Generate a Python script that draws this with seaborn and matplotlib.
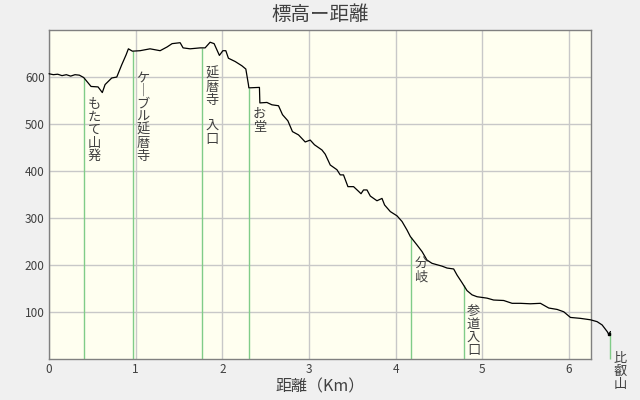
import numpy as np
import pandas as pd
import seaborn as sns
import matplotlib
matplotlib.use("Agg")
import matplotlib.pyplot as plt

# elevation profile, distance in km / elevation in m
dist = [0.00, 0.05, 0.10, 0.15, 0.20, 0.25, 0.30, 0.35, 0.40, 0.485, 0.566, 0.615,
        0.647, 0.724, 0.782, 0.839, 0.889, 0.916, 0.962, 1.051, 1.166, 1.282,
        1.363, 1.420, 1.513, 1.547, 1.628, 1.744, 1.801, 1.859, 1.905, 1.966,
        2.006, 2.040, 2.070, 2.148, 2.225, 2.271, 2.301, 2.306, 2.428, 2.433,
        2.514, 2.572, 2.648, 2.694, 2.756, 2.809, 2.879, 2.956, 3.014, 3.063,
        3.149, 3.187, 3.245, 3.322, 3.360, 3.398, 3.449, 3.514, 3.572, 3.600,
        3.629, 3.669, 3.707, 3.784, 3.842, 3.872, 3.938, 4.015, 4.073, 4.130,
        4.169, 4.246, 4.304, 4.361, 4.419, 4.535, 4.592, 4.669, 4.708, 4.765,
        4.823, 4.881, 4.939, 5.054, 5.130, 5.246, 5.343, 5.439, 5.554, 5.670,
        5.766, 5.863, 5.939, 6.016, 6.132, 6.247, 6.324, 6.382, 6.440, 6.459,
        6.478]
elev = [607, 605, 606, 603, 605, 602, 605, 604, 599, 580, 579, 567,
        584, 598, 600, 626, 647, 660, 655, 656, 660, 656,
        664, 671, 673, 662, 660, 662, 662, 674, 671, 646,
        656, 656, 640, 633, 624, 617, 584, 577, 578, 545,
        546, 541, 539, 520, 507, 484, 477, 462, 466, 456,
        445, 436, 413, 403, 392, 392, 367, 367, 357, 352,
        360, 360, 347, 337, 342, 328, 314, 305, 293, 275,
        261, 243, 229, 211, 204, 198, 194, 192, 179, 163,
        146, 137, 133, 130, 126, 125, 119, 119, 118, 119,
        109, 106, 101, 89, 87, 84, 80, 73, 59, 53,
        59]

# waypoints
point_km = [0.404, 0.970, 1.763, 2.313, 4.176, 4.784, 6.478]
point_names = ["もたて山発", "ケーブル延暦寺", "延暦寺 入口", "お堂", "分岐", "参道入口", "比叡山"]

x_ticks = [0, 1, 2, 3, 4, 5, 6]
y_ticks = [100, 200, 300, 400, 500, 600]

sns.set_theme(style="whitegrid", rc={
    "figure.facecolor": "#f0f0f0",
    "axes.facecolor": "#fffff0",
    "axes.edgecolor": "#808080",
    "axes.linewidth": 1.0,
    "grid.color": "#c8c8c8",
    "grid.linewidth": 1.0,
    "text.color": "#404040",
    "xtick.color": "#404040",
    "ytick.color": "#404040",
})
plt.rcParams["font.family"] = ["Noto Sans CJK JP", "DejaVu Sans"]

fig = plt.figure(figsize=(6.4, 4), dpi=100)
ax = fig.add_axes([49 / 640, 40.7 / 400, 541.7 / 640, 329.3 / 400])

df = pd.DataFrame({"km": dist, "m": elev})
tops = np.interp(point_km, dist, elev)
ax.vlines(point_km, 0, tops, colors="#80cc88", linewidth=1.0, clip_on=False, zorder=2)
sns.lineplot(data=df, x="km", y="m", ax=ax, color="black", linewidth=0.9,
             sort=False, clip_on=False, zorder=3)
# end point marker
ax.plot(dist[-2], elev[-2], marker="s", markersize=1.8, color="black", clip_on=False, zorder=4)

def vertical(s):
    return "\n".join("｜" if c == "ー" else c for c in s)

for km, top, name in zip(point_km, tops, point_names):
    ax.annotate(vertical(name), xy=(km, top), xytext=(10, -20),
                textcoords="offset pixels", ha="center", va="top",
                fontsize=9.5, linespacing=1.0, color="#404040",
                annotation_clip=False)

ax.set_xlim(0, 6.25)
ax.set_ylim(0, 700)
ax.set_xticks(x_ticks)
ax.set_yticks(y_ticks)
ax.tick_params(length=0, pad=3, labelsize=8.5)
ax.set_xlabel("")
ax.set_ylabel("")
fig.text(0.5, 1 - 387 / 400, "距離（Km）", ha="center", va="center", fontsize=11.5)
fig.suptitle("標高ー距離", y=1 - 4 / 400, va="top", fontsize=14)

fig.savefig("out.png", dpi=100)
